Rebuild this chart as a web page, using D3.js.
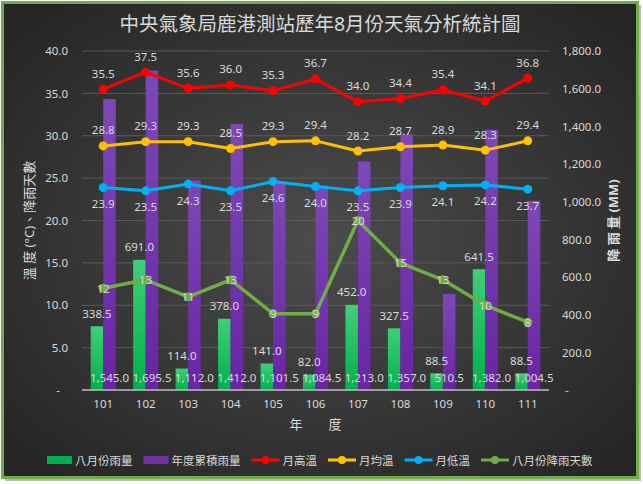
<!DOCTYPE html>
<html>
<head>
<meta charset="utf-8">
<script src="https://cdn.jsdelivr.net/npm/d3@7"></script>
<style>
  html, body { margin: 0; padding: 0; background: #ffffff; }
  svg { display: block; }
  text { font-family: "Noto Sans", "Noto Sans CJK TC", sans-serif; }
</style>
</head>
<body>
<svg id="chart" width="643" height="484"></svg>
<script>
// ---- data ----
const years = ["101","102","103","104","105","106","107","108","109","110","111"];
const augRain = [338.5, 691.0, 114.0, 378.0, 141.0, 82.0, 452.0, 327.5, 88.5, 641.5, 88.5];
const annualRain = [1545.0, 1695.5, 1112.0, 1412.0, 1101.5, 1084.5, 1213.0, 1357.0, 510.5, 1382.0, 1004.5];
const highTemp = [35.5, 37.5, 35.6, 36.0, 35.3, 36.7, 34.0, 34.4, 35.4, 34.1, 36.8];
const avgTemp = [28.8, 29.3, 29.3, 28.5, 29.3, 29.4, 28.2, 28.7, 28.9, 28.3, 29.4];
const lowTemp = [23.9, 23.5, 24.3, 23.5, 24.6, 24.0, 23.5, 23.9, 24.1, 24.2, 23.7];
const rainDays = [12, 13, 11, 13, 9, 9, 20, 15, 13, 10, 8];
const leftTicks = [0, 5, 10, 15, 20, 25, 30, 35, 40];
const rightTicks = [0, 200, 400, 600, 800, 1000, 1200, 1400, 1600, 1800];

const title = "中央氣象局鹿港測站歷年8月份天氣分析統計圖";
const leftTitle = "溫 度 (°C)、降雨天數";
const rightTitle = "降 雨 量 (MM)";
const xTitle = "年　　度";
const legendNames = ["八月份雨量", "年度累積雨量", "月高溫", "月均溫", "月低溫", "八月份降雨天數"];

const C = {
  green: "#00b050", purple: "#7030a0", red: "#ff0000", yellow: "#ffc000",
  blue: "#00b0f0", days: "#70ad47", text: "#d9d9d9", grid: "#5a5a5a"
};

const svg = d3.select("#chart");
const plot = { left: 82, right: 549, top: 51, bottom: 390 };

// ---- background ----
const defs = svg.append("defs");
const rg = defs.append("radialGradient").attr("id", "bg").attr("cx", "50%").attr("cy", "50%").attr("r", "65%");
rg.append("stop").attr("offset", "0%").attr("stop-color", "#4c4c4c");
rg.append("stop").attr("offset", "100%").attr("stop-color", "#262626");
const gg = defs.append("linearGradient").attr("id", "gGreen").attr("x1", 0).attr("y1", 0).attr("x2", 0).attr("y2", 1);
gg.append("stop").attr("offset", "0%").attr("stop-color", "#3fcf78");
gg.append("stop").attr("offset", "100%").attr("stop-color", "#00b14a");
const gp = defs.append("linearGradient").attr("id", "gPurple").attr("x1", 0).attr("y1", 0).attr("x2", 0).attr("y2", 1);
gp.append("stop").attr("offset", "0%").attr("stop-color", "#7e48b6");
gp.append("stop").attr("offset", "100%").attr("stop-color", "#6a24a4");

svg.append("rect").attr("x", 5).attr("y", 5).attr("width", 636).attr("height", 476).attr("fill", "#b8b8b8");
svg.append("rect").attr("x", 2.5).attr("y", 2.5).attr("width", 635).attr("height", 475)
  .attr("fill", "url(#bg)").attr("stroke", C.days).attr("stroke-width", 3);

// ---- scales ----
const x = d3.scaleBand().domain(years).range([plot.left, plot.right]).paddingInner(0).paddingOuter(0);
const yL = d3.scaleLinear().domain([0, 40]).range([plot.bottom, plot.top]);
const yR = d3.scaleLinear().domain([0, 1800]).range([plot.bottom, plot.top]);
const cx = d => x(d) + x.bandwidth() / 2;
const barW = x.bandwidth() * 0.295;

// ---- gridlines ----
svg.append("g").selectAll("line").data(leftTicks.filter(t => t > 0)).join("line")
  .attr("x1", plot.left).attr("x2", plot.right)
  .attr("y1", d => yL(d)).attr("y2", d => yL(d))
  .attr("stroke", C.grid).attr("stroke-width", 1);

// ---- axes ----
const fmt1 = d3.format(",.1f");
const axL = svg.append("g").attr("transform", `translate(${plot.left},0)`)
  .call(d3.axisLeft(yL).tickValues(leftTicks).tickSize(0).tickPadding(14).tickFormat(d => d === 0 ? "-" : d3.format(".1f")(d)));
const axR = svg.append("g").attr("transform", `translate(${plot.right},0)`)
  .call(d3.axisRight(yR).tickValues(rightTicks).tickSize(0).tickPadding(13).tickFormat(d => d === 0 ? "-" : fmt1(d)));
const axB = svg.append("g").attr("transform", `translate(0,${plot.bottom})`)
  .call(d3.axisBottom(x).tickSize(0).tickPadding(10));
[axL, axR, axB].forEach(a => {
  a.select(".domain").remove();
  a.selectAll("text").attr("fill", C.text).attr("font-size", "11.5px").attr("font-family", "Noto Sans, sans-serif");
});
axL.selectAll(".tick").filter(d => d === 0).select("text").attr("dx", -8);
axR.selectAll(".tick").filter(d => d === 0).select("text").attr("dx", 3);

// ---- bars ----
svg.append("g").selectAll("rect").data(years).join("rect")
  .attr("x", (d) => cx(d) - barW).attr("width", barW)
  .attr("y", (d, i) => yR(augRain[i])).attr("height", (d, i) => yR(0) - yR(augRain[i]))
  .attr("fill", "url(#gGreen)");
svg.append("g").selectAll("rect").data(years).join("rect")
  .attr("x", (d) => cx(d)).attr("width", barW)
  .attr("y", (d, i) => yR(annualRain[i])).attr("height", (d, i) => yR(0) - yR(annualRain[i]))
  .attr("fill", "url(#gPurple)");

// axis baseline
svg.append("line").attr("x1", plot.left).attr("x2", plot.right).attr("y1", plot.bottom).attr("y2", plot.bottom)
  .attr("stroke", "#bfbfbf").attr("stroke-width", 1.5);

// ---- lines ----
function drawLine(vals, color, width, r) {
  const line = d3.line().x((d, i) => cx(years[i])).y(d => yL(d));
  svg.append("path").datum(vals).attr("d", line).attr("fill", "none")
    .attr("stroke", color).attr("stroke-width", width).attr("stroke-linejoin", "round");
  svg.append("g").selectAll("circle").data(vals).join("circle")
    .attr("cx", (d, i) => cx(years[i])).attr("cy", d => yL(d)).attr("r", r).attr("fill", color);
}
drawLine(highTemp, C.red, 3, 4.5);
drawLine(avgTemp, C.yellow, 3, 4.5);
drawLine(lowTemp, C.blue, 3, 4.5);
drawLine(rainDays, C.days, 3.5, 4.5);

// ---- data labels ----
function labels(vals, xf, yf, fmt) {
  svg.append("g").selectAll("text").data(vals).join("text")
    .attr("x", (d, i) => xf(i)).attr("y", (d, i) => yf(d, i))
    .attr("text-anchor", "middle").attr("dominant-baseline", "central")
    .attr("fill", C.text).attr("font-size", "11.5px")
    .text(fmt);
}
labels(highTemp, i => cx(years[i]), d => yL(d) - 16, d => d.toFixed(1));
labels(avgTemp, i => cx(years[i]), d => yL(d) - 16, d => d.toFixed(1));
labels(lowTemp, i => cx(years[i]), d => yL(d) + 16, d => d.toFixed(1));
labels(augRain, i => cx(years[i]) - barW / 2, d => yR(d) - 13, d => fmt1(d));
labels(annualRain, i => cx(years[i]) + barW / 2, () => yR(0) - 13, d => fmt1(d));
labels(rainDays, i => cx(years[i]), d => yL(d), d => String(d));

// ---- titles ----
svg.append("text").attr("x", 320).attr("y", 23).attr("text-anchor", "middle").attr("dominant-baseline", "central")
  .attr("fill", C.text).attr("font-size", "19.5px").attr("font-family", "Noto Sans CJK TC, sans-serif").text(title);
svg.append("text").attr("transform", `translate(29,${(plot.top + plot.bottom) / 2}) rotate(-90)`)
  .attr("text-anchor", "middle").attr("dominant-baseline", "central")
  .attr("fill", C.text).attr("font-size", "13px").attr("font-family", "Noto Sans CJK TC, sans-serif").text(leftTitle);
svg.append("text").attr("transform", `translate(613,${(plot.top + plot.bottom) / 2}) rotate(-90)`)
  .attr("text-anchor", "middle").attr("dominant-baseline", "central").attr("font-weight", "bold")
  .attr("fill", C.text).attr("font-size", "13px").attr("font-family", "Noto Sans CJK TC, sans-serif").text(rightTitle);
svg.append("text").attr("x", (plot.left + plot.right) / 2).attr("y", 424).attr("text-anchor", "middle").attr("dominant-baseline", "central")
  .attr("fill", C.text).attr("font-size", "13px").attr("font-family", "Noto Sans CJK TC, sans-serif").text(xTitle);

// ---- legend ----
const legColors = [C.green, C.purple, C.red, C.yellow, C.blue, C.days];
const legTypes = ["bar", "bar", "line", "line", "line", "line"];
const legY = 460;
const leg = svg.append("g");
let lx = 47;
legendNames.forEach((name, i) => {
  const g = leg.append("g").attr("transform", `translate(${lx},${legY})`);
  if (legTypes[i] === "bar") {
    g.append("rect").attr("x", 0).attr("y", -4).attr("width", 25).attr("height", 8).attr("fill", legColors[i]);
  } else {
    g.append("line").attr("x1", 0).attr("x2", 28).attr("y1", 0).attr("y2", 0).attr("stroke", legColors[i]).attr("stroke-width", 3);
    g.append("circle").attr("cx", 14).attr("cy", 0).attr("r", 4).attr("fill", legColors[i]);
  }
  const off = legTypes[i] === "bar" ? 28 : 31;
  const t = g.append("text").attr("x", off).attr("y", 0).attr("dominant-baseline", "central")
    .attr("fill", C.text).attr("font-size", "11.5px").attr("font-family", "Noto Sans CJK TC, sans-serif").text(name);
  const tw = t.node().getComputedTextLength();
  lx += off + tw + 11;
});
</script>
</body>
</html>
